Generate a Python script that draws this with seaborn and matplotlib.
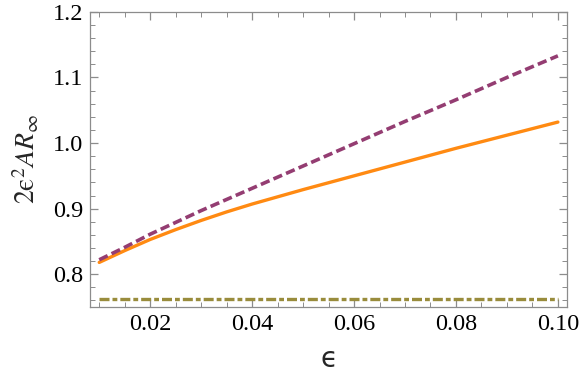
import matplotlib
matplotlib.use("Agg")
import matplotlib.pyplot as plt
import seaborn as sns
import pandas as pd
from matplotlib.ticker import MultipleLocator

# values
eps = [0.01, 0.015, 0.02, 0.025, 0.03, 0.035, 0.04, 0.05, 0.06, 0.07, 0.08, 0.09, 0.10]
dashed_purple = [0.822, 0.841, 0.861, 0.879, 0.897, 0.914, 0.931, 0.965, 0.999,
                 1.033, 1.066, 1.100, 1.133]
solid_orange = [0.818, 0.836, 0.853, 0.868, 0.882, 0.895, 0.907, 0.929, 0.950,
                0.971, 0.992, 1.012, 1.032]
flat_olive = [0.762] * len(eps)

sns.set_style("ticks")
plt.rcParams["font.family"] = ["Liberation Serif", "DejaVu Serif"]
plt.rcParams["mathtext.fontset"] = "stix"

df = pd.DataFrame({"eps": eps, "purple": dashed_purple,
                   "orange": solid_orange, "olive": flat_olive})

fig = plt.figure(figsize=(5.81, 3.84), dpi=100)
ax = fig.add_axes([0.155, 0.2005, 0.821, 0.7685])

sns.lineplot(data=df, x="eps", y="olive", ax=ax, color="#998c3c", lw=2.4)
ax.lines[-1].set_dashes([3.0, 0.9, 1.45, 0.9])
ax.lines[-1].set_dash_capstyle("butt")
sns.lineplot(data=df, x="eps", y="orange", ax=ax, color="#ff8a12", lw=2.4)
sns.lineplot(data=df, x="eps", y="purple", ax=ax, color="#943d72", lw=2.6)
ax.lines[-1].set_dashes([2.6, 1.2])

ax.set_xlim(0.0082, 0.1018)
ax.set_ylim(0.75, 1.2)
ax.xaxis.set_minor_locator(MultipleLocator(0.005))
ax.yaxis.set_minor_locator(MultipleLocator(0.02))
ax.set_xticks([0.02, 0.04, 0.06, 0.08, 0.10])
ax.set_xticklabels(["0.02", "0.04", "0.06", "0.08", "0.10"])
ax.set_yticks([0.8, 0.9, 1.0, 1.1, 1.2])
ax.set_yticklabels(["0.8", "0.9", "1.0", "1.1", "1.2"])

frame = "#8c8c8c"
for s in ax.spines.values():
    s.set_color(frame)
    s.set_linewidth(0.9)
ax.tick_params(which="both", direction="in", top=True, right=True,
               color=frame, labelsize=17.5, labelcolor="black", pad=5)
ax.tick_params(which="major", length=6, width=0.9)
ax.tick_params(which="minor", length=3.5, width=0.7)

ax.set_xlabel("\u03f5", fontsize=20, labelpad=7, family=["DejaVu Sans"])
ax.set_ylabel("$2\\mathrm{\u03f5}^{2}AR_{\\infty}$", fontsize=20, labelpad=8)

fig.savefig("out.png", dpi=100)
